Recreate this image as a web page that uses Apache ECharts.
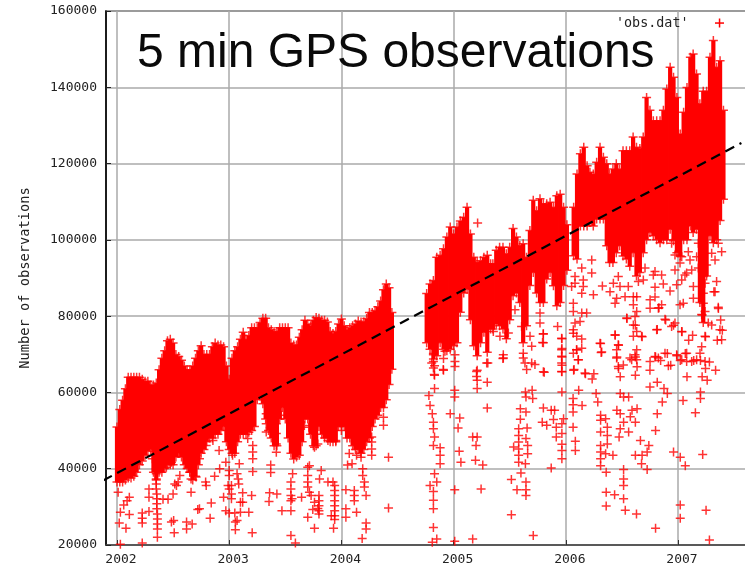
<!DOCTYPE html>
<html><head><meta charset="utf-8">
<style>html,body{margin:0;padding:0;background:#fff}#c{width:745px;height:564px}</style>
<script src="https://cdn.jsdelivr.net/npm/echarts@6/dist/echarts.min.js"></script>
</head><body><div id="c"></div>
<script>
const chartTitle = "5 min GPS observations";
const yAxisName = "Number of observations";
const seriesName = "'obs.dat'";
const yearTicks = [2002, 2003, 2004, 2005, 2006, 2007];

// Dense band: year, upper edge, lower edge (thousands of observations)
const denseYears = [
2002.00,2002.025,2002.05,2002.075,2002.10,2002.125,2002.15,2002.175,2002.20,2002.225,2002.25,2002.275,2002.30,2002.325,2002.35,2002.375,2002.40,2002.425,2002.45,2002.475,2002.50,2002.525,2002.55,2002.575,2002.60,2002.625,2002.65,2002.675,2002.70,2002.725,2002.75,2002.775,2002.80,2002.825,2002.85,2002.875,2002.90,2002.925,2002.95,2002.975,
2003.00,2003.025,2003.05,2003.075,2003.10,2003.125,2003.15,2003.175,2003.20,2003.225,2003.25,2003.275,2003.30,2003.325,2003.35,2003.375,2003.40,2003.425,2003.45,2003.475,2003.50,2003.525,2003.55,2003.575,2003.60,2003.625,2003.65,2003.675,2003.70,2003.725,2003.75,2003.775,2003.80,2003.825,2003.85,2003.875,2003.90,2003.925,2003.95,2003.975,
2004.00,2004.025,2004.05,2004.075,2004.10,2004.125,2004.15,2004.175,2004.20,2004.225,2004.25,2004.275,2004.30,2004.325,2004.35,2004.375,2004.40,2004.425,2004.45,
2004.76,2004.79,2004.82,2004.85,2004.88,2004.91,2004.94,2004.97,2005.00,2005.03,2005.06,2005.09,2005.12,2005.15,2005.18,2005.21,2005.24,2005.27,2005.30,2005.33,2005.35,2005.38,2005.41,2005.44,2005.47,2005.50,2005.53,2005.56,2005.59,2005.62,2005.65,2005.68,2005.71,2005.74,2005.77,2005.80,2005.83,2005.86,2005.89,2005.92,2005.95,2005.98,2006.01,
2006.07,2006.10,2006.13,2006.16,2006.19,2006.215,2006.245,2006.275,2006.305,2006.335,2006.365,2006.39,2006.42,2006.45,2006.48,2006.51,2006.54,2006.57,2006.60,2006.63,2006.66,2006.69,2006.72,2006.75,2006.78,2006.81,2006.84,2006.87,2006.90,2006.93,2006.96,2006.99,2007.02,2007.05,2007.08,2007.11,2007.135,2007.165,2007.195,2007.225,2007.255,2007.285,2007.315,2007.345,2007.375,2007.405];
const denseTop = [
52,56.6,59,62,65,65,65,65,65,64.5,64,64,63,63,63.5,67,70,72,74.6,75,74,71,70.5,69.5,68,67,67,68,70,72,73.3,71,71,71,73,74,73.5,73.5,73,68,
64.5,70,72,73,75,76.8,75,76,78,78,78,79.4,80.5,80.5,78,77.5,77,77,78,78,78,78,74,73.5,73.5,75.5,77.5,80,79,78.5,80,80.7,80.5,80,80,79.5,77,76.5,77,79,
80.3,78.5,77.5,78,78.5,79,79.8,79.5,79.5,80.4,82,82,82.5,83.5,85,88,89.5,88.5,82,
87,89.5,90.4,96.5,97,98.7,101.8,104.4,102.6,104.4,106,107,109.6,102.6,96.5,95.2,95.6,96.5,97,94.8,94.8,98.3,99.1,99.1,97.4,99.1,104,101.8,99.6,100,96.5,103.5,111.4,108.7,111.8,110.5,110.5,110.9,109.6,112.6,113,109.6,105,
109.6,118.3,123.6,125.3,120.5,118.8,118.3,121.4,125.3,122.7,121,118.3,119.6,121,119.6,124.4,124.4,124.4,128,125.3,125,128,138.4,135,132.3,132.3,132.3,135,140.6,146.3,143.7,138.4,128.8,134.5,141,148.9,149.8,144.5,136.7,140,140,148.9,153.3,146.3,148,135];
const denseBottom = [
35.5,35.5,35.5,36,36.5,36.5,37,38,40,41,42.5,43.5,44,38,36,38,38,39,40,40,40,42,43,42,40,39,38,36,37,40,43,44,46,47,47,48,48,49,50,46,
44,43,43,46,48,48,48,48.5,49,50,57,58,56,52,49,47,45,45,52,55,52,47,43,41.5,42,42.5,46,52,52,48,45,45,50,48,47,47,46,46,46,50,
50,50,47,47,45,44,44,43,44,46,47,50,52,53,55,55,57,61,65,
72,70.3,67.7,68.6,72,70.3,69.9,70.3,71.2,72,80,85,86,78,71.2,68.6,72,74.7,69.5,75.6,75.6,76.9,76.4,75.6,73,78,84.3,85,82.5,72,76.4,87,90.4,85,82.5,82.5,88.7,90.4,86.9,81.7,82.5,87,91,
94.8,93.9,102.6,102.6,102.6,103.5,102.6,104.4,104.4,104.4,97.4,93,93,95.6,97.4,94.7,93.9,92,95.6,89.5,90.4,95.6,99,100.9,100,99,98.2,99,99,101.7,98.7,95.6,94.7,99,99,102.6,100.9,101.7,82.5,77.3,89.5,100,98.2,99,104,109.6];

// Isolated points: year, thousands of observations
const scatterPoints = [
[2002.01,33.8],[2002.03,28.6],[2002.02,25.8],[2002.08,24.4],[2002.11,28],[2002.06,30.5],[2002.11,32.5],[2002.09,31.6],[2002.03,20.2],
[2002.225,28.4],[2002.225,27],[2002.225,25.8],[2002.225,20.5],[2002.285,28.8],[2002.285,34.7],[2002.285,32.5],
[2002.35,40],[2002.35,38.7],[2002.35,37.3],[2002.35,36],[2002.35,34.7],[2002.355,33.4],[2002.355,32.1],[2002.355,30.8],[2002.355,29.5],[2002.36,28.1],[2002.36,26.8],[2002.36,25.5],[2002.36,24.2],[2002.36,22],
[2002.41,32],[2002.455,32],[2002.5,33.4],[2002.485,26],[2002.505,26.4],[2002.51,23.2],[2002.515,36],[2002.53,35.6],[2002.56,38.2],[2002.545,36.5],
[2002.62,26],[2002.62,24.2],[2002.67,25.5],[2002.66,33.8],[2002.65,39.1],[2002.66,37.3],[2002.705,37.8],[2002.72,29.3],[2002.735,29.5],[2002.79,36.5],[2002.795,35.6],[2002.83,27],[2002.84,31],[2002.87,38],[2002.915,40],[2002.95,32.5],[2002.97,29],
[2003.00,28.4],[2003.05,28.4],[2003.10,28.6],[2003.00,39.5],[2003.00,38.2],[2002.99,35.6],[2003.02,35.6],[2003.00,34.7],[2003.02,33.4],[2003.02,32.1],[2003.07,38.7],[2003.08,37.3],[2003.085,36],[2003.12,33.7],[2003.12,31.2],[2003.10,31.2],[2003.055,26],[2003.07,26.4],[2003.055,24],[2003.20,33],[2003.175,28.6],[2003.205,23.2],[2003.21,39.3],
[2003.36,33.7],[2003.355,31.4],[2003.425,33.4],[2003.37,41],[2003.37,39],[2003.47,29],[2003.55,29],[2003.55,22.5],[2003.59,20.5],[2003.55,36.5],[2003.565,38.7],[2003.55,34.7],[2003.55,33],[2003.55,31.6],[2003.56,32.1],[2003.645,32.5],[2003.70,27.3],[2003.70,40.4],[2003.715,40.8],[2003.70,38.2],[2003.70,36.5],[2003.70,35.2],[2003.715,33.8],[2003.73,33],[2003.76,31.2],[2003.76,24.4],[2003.745,29.3],[2003.79,29.6],
[2003.80,33],[2003.80,31.6],[2003.80,30.3],[2003.80,29],[2003.80,28.1],[2003.82,39.5],[2003.805,37.3],[2003.88,36.5],[2003.925,36.5],[2003.94,35.6],[2003.94,34.3],[2003.94,33],[2003.94,31.6],[2003.94,30.3],[2003.94,29],[2003.94,27.7],[2003.94,26.7],[2003.93,24.4],[2003.91,27.7],
[2004.04,34.5],[2004.04,29.5],[2004.04,27.3],[2004.055,41],[2004.095,41.3],[2004.135,43.5],[2004.115,34.3],[2004.115,33],[2004.115,31.6],[2004.135,28.6],[2004.185,21.7],[2004.19,40],[2004.19,38.2],[2004.205,36.5],[2004.205,35.2],[2004.22,33],[2004.22,25.8],[2004.22,24.2],
[2004.27,48.3],[2004.27,47],[2004.27,45.2],[2004.27,43.5],[2004.42,43],[2004.42,29.7],[2004.375,53.5],[2004.375,51.4],
[2004.78,59.2],[2004.79,56.6],[2004.81,54.4],[2004.82,52.2],[2004.82,50.5],[2004.83,48.3],[2004.82,46.1],[2004.88,45.5],[2004.88,43.5],[2004.88,41.3],[2004.83,38.7],[2004.85,36.5],[2004.79,35.6],[2004.82,34],[2004.82,31.7],[2004.82,29.5],[2004.82,24.6],[2004.81,20.7],[2004.85,21.6],[2004.83,61],[2004.83,64.5],[2004.83,67],[2004.82,70.2],[2004.91,65.8],[2004.91,68.9],[2004.97,54.4],
[2005.01,60.6],[2005.01,58.8],[2005.055,53.3],[2005.04,50.7],[2005.05,44.6],[2005.065,41.7],[2005.01,34.5],[2005.01,21],[2005.17,48.3],[2005.21,48.3],[2005.2,46.1],[2005.195,42.2],[2005.26,41],[2005.245,34.7],[2005.17,21.6],[2005.30,55.9],[2005.21,63.2],[2005.21,61],[2005.21,65.8],[2005.30,62.7],[2005.305,67.7],[2005.44,68.9],
[2005.515,37.2],[2005.515,27.9],[2005.565,34.5],[2005.535,45.7],[2005.58,41.7],[2005.58,43.5],[2005.58,45.2],[2005.58,47],[2005.58,48.7],[2005.58,50.5],[2005.595,53],[2005.595,55.7],[2005.60,38.9],[2005.64,41.3],[2005.66,43.9],[2005.66,46.1],[2005.645,47.9],[2005.655,50.7],[2005.645,54.9],[2005.645,58.8],[2005.64,60.1],[2005.645,36.5],[2005.645,34.5],[2005.645,33],[2005.71,22.5],[2005.70,60.6],[2005.705,58.4],
[2005.80,55.9],[2005.79,52.2],[2005.83,51.4],[2005.87,55.3],[2005.9,55.3],[2005.89,52.9],[2005.915,50.9],[2005.98,53.1],[2005.965,51.8],[2005.87,40.2],[2005.915,48.3],[2005.965,49.2],[2005.965,46.4],[2005.965,44.8],[2005.965,42.6],[2005.965,65.4],[2005.965,60.1],[2005.965,74.1],[2005.965,71.5],[2005.965,69.3],[2005.965,67.1],[2005.80,65.4],[2005.80,75.4],[2005.80,73],
[2006.065,58.4],[2006.065,56.8],[2006.065,54.9],[2006.065,50.9],[2006.085,47.2],[2006.085,44.8],[2006.145,56.6],[2006.115,60.6],[2006.07,65.8],[2006.175,64.9],[2006.25,64.9],[2006.235,63.5],[2006.31,72.8],[2006.315,70.5],[2006.27,59.7],[2006.285,57.5],[2006.31,54],[2006.31,52.7],[2006.355,53.1],[2006.37,50.9],[2006.31,49.6],[2006.31,46.1],[2006.31,44.4],[2006.31,42.6],[2006.31,40.8],[2006.37,48.7],[2006.37,46.5],[2006.355,43.9],[2006.42,43.5],[2006.36,39.1],[2006.36,33.8],[2006.36,30.2],[2006.435,33.2],
[2006.515,39.8],[2006.515,37.3],[2006.515,35.6],[2006.515,32.1],[2006.53,29.1],[2006.63,28.1],[2006.80,24.4],[2006.485,59.7],[2006.515,58.8],[2006.56,58.8],[2006.455,55.3],[2006.485,54.4],[2006.59,55.3],[2006.635,55.7],[2006.575,53.6],[2006.515,52.2],[2006.62,52.2],[2006.485,50.5],[2006.56,49.6],[2006.475,48.3],[2006.44,75],[2006.47,72.4],[2006.455,69.3],[2006.47,66.3],[2006.485,64.1],[2006.62,69.3],[2006.635,66.7],[2006.62,64.5],[2006.68,74.6],[2006.62,77.6],[2006.545,79.4],
[2006.665,47.4],[2006.62,43.5],[2006.68,43.5],[2006.725,44.4],[2006.675,41.3],[2006.725,39.8],[2006.74,46.1],[2006.80,50],[2006.815,54.4],[2006.86,57.5],[2006.905,59.7],[2006.875,61],[2006.75,61.4],[2006.815,62.7],[2006.75,65.8],[2006.80,69.3],[2006.845,68.4],[2006.935,67.1],[2006.905,70.2],[2006.99,69.6],[2006.83,82.2],[2006.89,79],[2006.815,76.5],[2006.96,77.6],
[2006.96,44.4],[2007.02,43],[2007.065,40.8],[2007.045,57.9],[2007.02,30.5],[2007.02,27],[2007.25,29.1],[2007.28,21.3],[2007.155,54.7],[2007.22,43.7],[2007.20,60.1],[2007.20,58.4],[2007.035,75.9],[2007.13,75],[2007.095,73.7],[2007.065,70.2],[2007.02,68.4],[2007.08,64.1],[2007.215,64.1],[2007.26,63.2],[2007.335,65.8],[2007.245,66.3],[2007.28,68],[2007.14,68.4],[2007.2,68.4],[2007.245,74.6],[2007.35,73.7],[2007.395,76.3],[2007.38,79],[2007.32,86.4],[2007.215,80.3],[2007.36,82]];

// More points under the dense band
const drip2002to2004 = [
[2002.315,42.6],[2002.38,41.3],[2002.44,40.4],[2002.485,41.7],[2002.555,44.4],[2002.645,41.7],[2002.705,43.5],[2002.735,42.6],[2002.795,46.1],[2002.855,47.4],[2002.91,44.8],[2002.97,41.7],
[2003.03,43.5],[2003.09,41.3],[2003.165,47.9],[2003.21,46.1],[2003.21,44.4],[2003.21,42.6],[2003.33,54.4],[2003.33,51.8],[2003.33,49.6],[2003.42,51.8],[2003.42,49.2],[2003.42,46.5],[2003.42,44.3],[2003.465,54],[2003.67,51.3],[2003.71,50.9],[2003.76,45.6],[2003.79,46.5],[2003.88,47.4],[2003.95,47.4],
[2004.0,50],[2004.07,44],[2004.16,47.4],[2004.175,43]];
const drip2005 = [
[2004.82,69.9],[2004.82,68.1],[2004.82,66.4],[2004.828,64.7],[2004.908,66],[2005.012,69.9],[2005.012,68.1],[2005.012,66.8],[2004.805,67.7],[2004.923,70.8],[2005.205,65.5],[2005.205,64.2],[2005.295,67.7],[2005.443,69],[2005.443,69.9],
[2005.621,70.3],[2005.621,69],[2005.636,67.7],[2005.651,66],[2005.696,67.7],[2005.725,67.3],[2005.799,75.3],[2005.793,73.1],[2005.808,65.3],[2005.77,78.2],[2005.77,80.8],[2005.927,77.3],[2005.963,74.2],[2005.963,71.2],[2005.963,69.5],[2005.963,67.7],[2005.963,65.5],[2006.073,66],[2006.171,65.1],
[2005.547,81.7],[2005.606,77.3],[2005.488,75.6],[2005.413,74.7],[2005.354,76],[2005.696,72.1],[2005.681,74.7],[2006.067,70.3],[2006.111,68.6],[2006.067,75.5],[2006.096,71.2],[2005.214,104.4]];
const drip2006 = [
[2006.142,92.6],[2006.231,94.7],[2006.231,91.3],[2006.082,90.4],[2006.082,88.6],[2006.156,89.5],[2006.156,87.8],[2006.052,87.8],[2006.142,86],[2006.067,83.4],[2006.067,81.2],[2006.142,80.8],[2006.186,80.8],[2006.082,78.2],[2006.127,78.6],[2006.067,76.4],[2006.097,74.7],[2006.142,74],[2006.097,71.2],[2006.142,71.6],[2006.112,68.6],
[2006.305,72.9],[2006.32,70.6],[2006.326,87.9],[2006.246,85.6],[2006.439,83.4],[2006.453,84.7],[2006.394,86.4],[2006.424,88.6],[2006.483,87.8],[2006.468,90.4],[2006.528,85.1],[2006.557,87.8],
[2006.439,75.1],[2006.468,72.5],[2006.453,71.2],[2006.453,69],[2006.468,66.8],[2006.513,67.2],[2006.572,69],[2006.617,69.9],[2006.632,71.2],[2006.602,74.7],[2006.632,76],[2006.602,77.7],[2006.617,79.9],[2006.602,83],[2006.632,81.2],[2006.602,85.1],[2006.632,85.1],[2006.647,89.1],[2006.691,89.5],[2006.676,74.7],[2006.81,76.4],[2006.543,79.5],
[2006.751,84.3],[2006.751,82.1],[2006.795,85],[2006.825,82.1],[2006.854,83],[2006.706,92.6],[2006.78,90.8],[2006.795,91.7],[2006.854,90.8],[2006.795,87.6],[2006.869,88.4],[2006.929,86.6],[2006.973,92.1],[2006.988,88.2],[2006.884,79.2],[2006.943,77.3],[2006.973,78.2],[2007.033,76],[2007.018,83],[2007.047,83.4],[2007.137,84.7],[2007.137,87.8],[2007.033,89.5],[2007.062,90.8],[2007.077,91.3],[2007.122,92.1],[2007.181,92.6],[2007.255,93.4],
[2007.226,90.4],[2007.241,88.6],[2007.226,86],[2007.226,83.4],[2007.241,81.2],[2007.211,80.4],[2007.27,78.2],[2007.30,77.7],[2007.241,74.7],[2007.211,72],[2007.196,70.3],[2007.241,68.1],[2007.166,68.6],[2007.122,68.1],[2007.077,70.3],[2007.077,68.1],
[2007.33,86.4],[2007.359,82.3],[2007.344,89.1],[2007.33,94.7],[2007.389,96.9],[2007.359,99.1],[2007.374,76.4],[2007.389,73.8],
[2006.825,69],[2006.884,70.3],[2006.914,67],[2006.988,69.9],[2007.033,68.6],[2006.795,69.4],[2006.751,68.1],[2006.632,68.6],[2006.587,68.6],[2006.973,96],[2007.033,95.6],[2007.092,96.9],[2007.181,99.1],[2006.943,99.1],[2007.018,93.9],[2007.107,94.7],[2007.166,95.6],[2007.30,96.5]];

// Dashed fit line endpoints
const fitLine = [[2001.875, 36.9], [2007.565, 125.4]];

const plusPath = 'path://M3.75 0H5.25V3.75H9V5.25H5.25V9H3.75V5.25H0V3.75H3.75Z';
const mono = '"DejaVu Sans Mono", monospace';
const k = v => v * 1000;

const bandData = denseYears.map((y, i) => [y, k(denseBottom[i]), k(denseTop[i])]);
const topData = denseYears.map((y, i) => [y, k(denseTop[i])]);
const bottomData = denseYears.map((y, i) => [y, k(denseBottom[i])]);
const outliers = scatterPoints.concat(drip2002to2004, drip2005, drip2006).map(p => [p[0], k(p[1])]);
const plusStyle = { color: '#ff0000' };

const chart = echarts.init(document.getElementById('c'), null, { renderer: 'canvas' });
chart.setOption({
  animation: false,
  backgroundColor: '#ffffff',
  title: {
    text: chartTitle, left: 132, top: 25,
    textStyle: { fontFamily: '"Liberation Sans", Arial, sans-serif', fontSize: 48, fontWeight: 'normal', color: '#0a0a0a' }
  },
  graphic: [
    { type: 'text', left: 616, top: 17, z: 10, style: { text: seriesName, fontFamily: mono, fontSize: 13.4, fill: '#222' } },
    { type: 'rect', shape: { x: 715, y: 22.3, width: 9, height: 1.5 }, style: { fill: '#ff0000' }, z: 10 },
    { type: 'rect', shape: { x: 718.8, y: 18.5, width: 1.5, height: 9 }, style: { fill: '#ff0000' }, z: 10 }
  ],
  grid: { left: 106, top: 11, width: 640, height: 534, show: true, borderColor: '#444', borderWidth: 1.5, backgroundColor: '#fff', outerBoundsMode: 'none' },
  xAxis: {
    type: 'value', min: 2001.902, max: 2007.606,
    axisLine: { show: true, onZero: false, lineStyle: { color: '#444', width: 1.5 } },
    axisTick: { show: true, inside: true, length: 5, customValues: yearTicks, lineStyle: { color: '#333', width: 1 } },
    axisLabel: { customValues: yearTicks, formatter: v => String(Math.round(v)), fontFamily: mono, fontSize: 13, color: '#222', margin: 8, padding: [0, 0, 0, 8], hideOverlap: false },
    splitLine: { show: true, lineStyle: { color: '#aaaaaa', width: 1.5 } }
  },
  yAxis: {
    type: 'value', min: 20000, max: 160000, interval: 20000,
    name: yAxisName, nameLocation: 'middle', nameRotate: 90, nameGap: 74,
    nameTextStyle: { fontFamily: mono, fontSize: 13.7, color: '#222' },
    axisLine: { show: true, lineStyle: { color: '#000', width: 1.5 } },
    axisTick: { show: true, inside: true, length: 5, lineStyle: { color: '#222', width: 1 } },
    axisLabel: { formatter: v => String(v), fontFamily: mono, fontSize: 13, color: '#222', margin: 9 },
    splitLine: { show: true, lineStyle: { color: '#aaaaaa', width: 1.5 } }
  },
  series: [
    { name: seriesName, type: 'scatter', data: outliers, symbol: plusPath, symbolSize: 9, itemStyle: plusStyle, z: 3 },
    {
      name: 'band', type: 'custom', data: bandData, z: 3, clip: true,
      encode: { x: 0, y: [1, 2] },
      renderItem: (params, api) => {
        const a = api.coord([api.value(0), api.value(1)]);
        const b = api.coord([api.value(0), api.value(2)]);
        return { type: 'line', shape: { x1: a[0], y1: a[1] - 4, x2: b[0], y2: b[1] + 4 }, style: { stroke: '#ff0000', lineWidth: 4.2 } };
      }
    },
    { name: 'top', type: 'scatter', data: topData, symbol: plusPath, symbolSize: 9, symbolOffset: [0, 4], itemStyle: plusStyle, z: 3 },
    { name: 'bottom', type: 'scatter', data: bottomData, symbol: plusPath, symbolSize: 9, symbolOffset: [0, -4], itemStyle: plusStyle, z: 3 },
    {
      name: 'fit', type: 'line', data: fitLine.map(p => [p[0], k(p[1])]), showSymbol: false, clip: false, z: 5,
      lineStyle: { color: '#000', width: 2.2, type: [10, 6] }
    }
  ]
});
</script></body></html>
